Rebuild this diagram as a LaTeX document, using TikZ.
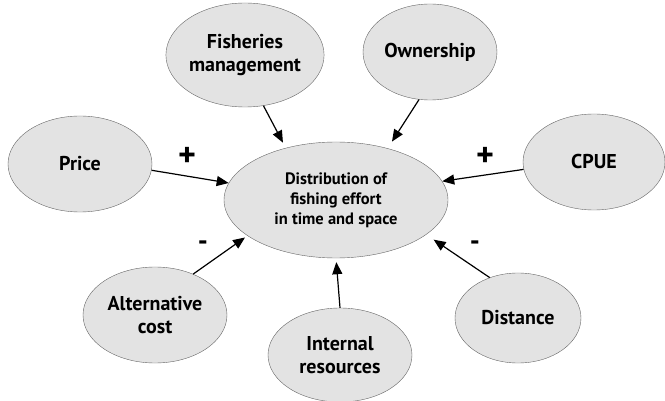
\documentclass[tikz,border=0pt]{standalone}
\usepackage{fontspec}
\setmainfont{PT Sans}
\usetikzlibrary{arrows.meta}
\usetikzlibrary{shapes.geometric}

\begin{document}
\begin{tikzpicture}[x=1pt,y=-1pt]
    \useasboundingbox (0,0) rectangle (665,401);

    % Add or remove nodes here, use the tuple for location
    \begin{scope}[every node/.style={ellipse, draw=black!60, fill=black!11, thin,
            inner sep=0pt, align=center, font=\fontsize{20}{23}\selectfont\bfseries}]
    \node[minimum width=144pt, minimum height=104pt] (fishmgmt) at (245,55) {Fisheries\\management};
    \node[minimum width=134pt, minimum height=96pt] (owner) at (430,52) {Ownership};
    \node[minimum width=144pt, minimum height=96pt] (price) at (80,164) {Price};
    \node[minimum width=224pt, minimum height=116pt,
          font=\fontsize{16.5}{20}\selectfont\bfseries] (effort) at (336,200)
          {Distribution of\\fishing effort\\in time and space};
    \node[minimum width=142pt, minimum height=96pt] (cpue) at (594,162) {CPUE};
    \node[minimum width=144pt, minimum height=96pt] (altcost) at (155,315) {Alternative\\cost};
    \node[minimum width=144pt, minimum height=94pt] (intres) at (340,355) {Internal\\resources};
    \node[minimum width=126pt, minimum height=90pt] (distance) at (518,318) {Distance};
    \end{scope}

    % signs of the influences
    \begin{scope}[every node/.style={font=\fontsize{34}{34}\selectfont\bfseries}]
    \node (plusprice) at (187,157) {+};
    \node (pluscpue) at (485,157) {+};
    \node[font=\fontsize{28}{28}\selectfont\bfseries] (minalt) at (203,246) {-};
    \node[font=\fontsize{28}{28}\selectfont\bfseries] (mindist) at (475,246) {-};
    \end{scope}

    % Remove or add new edges here
    \begin{scope}[>={Triangle[length=12pt,width=10pt]},
              every edge/.style={draw=black, line width=1.2pt}]
    \path [->, shorten >=6pt] (fishmgmt.-70) edge (effort.134);
    \path [->, shorten >=8pt] (owner.-103) edge (effort.45);
    \path [->] (price.-5) edge (effort.171);
    \path [->] (cpue.186) edge (effort.10);
    \path [->, shorten >=3pt] (altcost.47) edge (effort.-158);
    \path [->, shorten >=4pt] (intres.north) edge (effort.south);
    \path [->, shorten >=9pt] (distance.125) edge (effort.-21);
    \end{scope}

    \end{tikzpicture}
\end{document}
